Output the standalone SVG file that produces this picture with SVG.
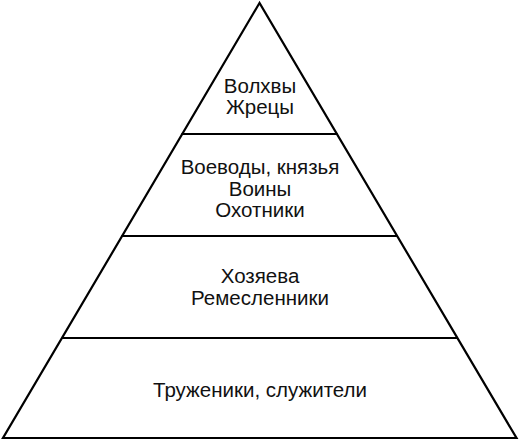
<svg xmlns="http://www.w3.org/2000/svg" width="519" height="441" viewBox="0 0 519 441">
<style>
.ln{stroke:#000;stroke-width:2.2;fill:none}
.t{font-family:"Liberation Sans",Arial,sans-serif;font-size:20.5px;fill:#111;text-anchor:middle}
</style>
<rect width="519" height="441" fill="#fff"/>
<g id="connectors">
<polygon class="ln" points="259.5,3 3,438 516.5,438"/>
<line class="ln" x1="181.5" y1="134" x2="337.5" y2="134"/>
<line class="ln" x1="121.5" y1="236" x2="397.5" y2="236"/>
<line class="ln" x1="62" y1="338" x2="457" y2="338"/>
</g>
<g id="level1"><text class="t" x="260" y="93">Волхвы</text><text class="t" x="260" y="114">Жрецы</text></g>
<g id="level2"><text class="t" x="260" y="174">Воеводы, князья</text><text class="t" x="260" y="196">Воины</text><text class="t" x="260" y="217">Охотники</text></g>
<g id="level3"><text class="t" x="260" y="283">Хозяева</text><text class="t" x="260" y="305">Ремесленники</text></g>
<g id="level4"><text class="t" x="260" y="396.5">Труженики, служители</text></g>
</svg>
